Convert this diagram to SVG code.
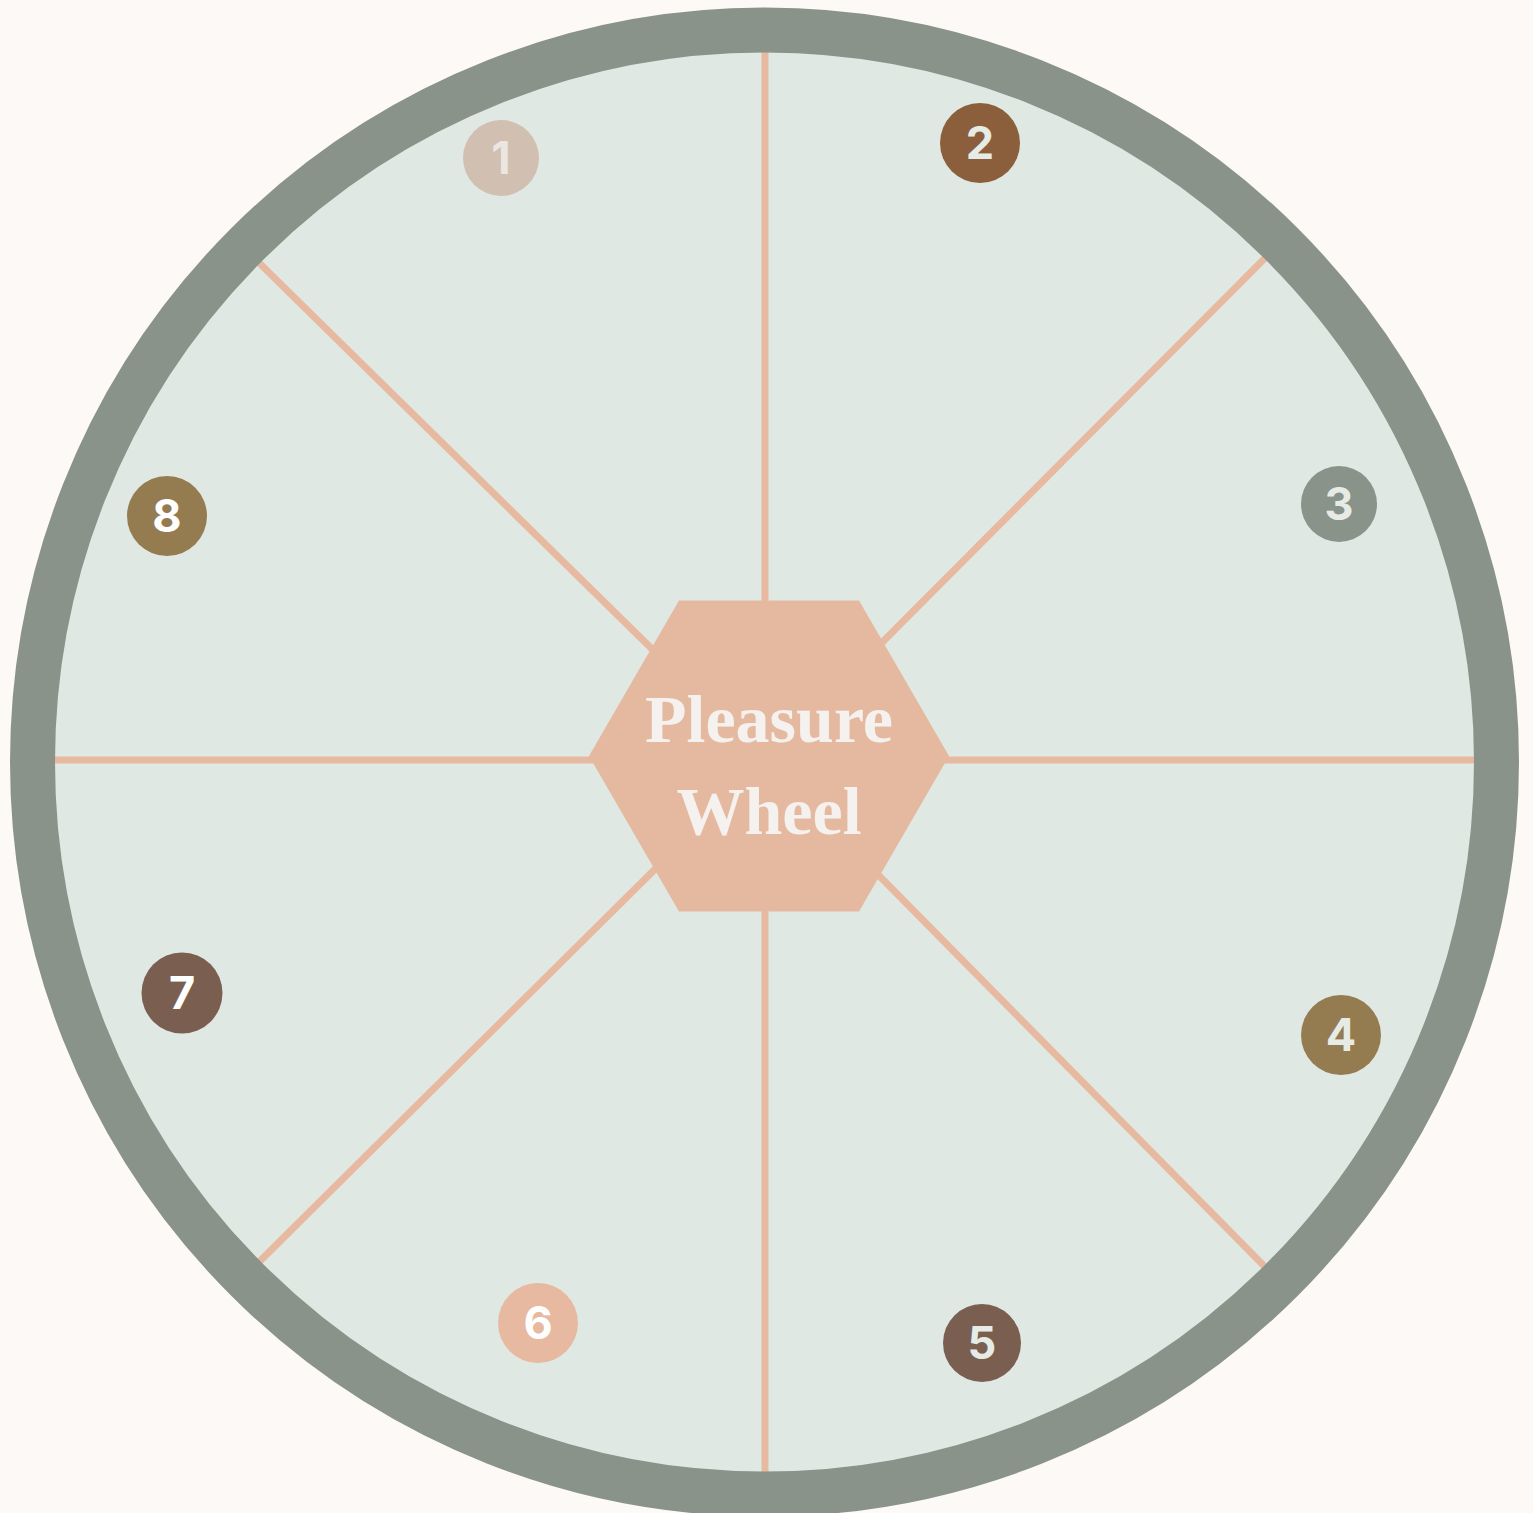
<svg xmlns="http://www.w3.org/2000/svg" width="1533" height="1513" viewBox="0 0 1533 1513">
<style>
.spoke{stroke:#e6b9a0;stroke-width:7;fill:none}
.num{font-family:Inter,"Noto Sans",sans-serif;font-weight:700;font-size:45px;text-anchor:middle}
.title{font-family:"Liberation Serif","DejaVu Serif",serif;font-weight:700;font-size:68px;fill:#f4f1ee;text-anchor:middle}
</style>
<rect width="1533" height="1513" fill="#fcf9f6"/>
<g id="wheel-bg">
<circle cx="764.5" cy="762" r="712" fill="#e0e8e3"/>
</g>
<g id="connectors">
<line class="spoke" x1="765" y1="760" x2="765" y2="40"/>
<line class="spoke" x1="765" y1="760" x2="765" y2="1490"/>
<line class="spoke" x1="765" y1="760" x2="40" y2="760"/>
<line class="spoke" x1="765" y1="760" x2="1490" y2="760"/>
<line class="spoke" x1="765" y1="760" x2="250" y2="254"/>
<line class="spoke" x1="765" y1="760" x2="1273" y2="250"/>
<line class="spoke" x1="765" y1="760" x2="1274" y2="1276"/>
<line class="spoke" x1="765" y1="760" x2="250" y2="1271"/>
</g>
<g id="rim">
<circle cx="764.5" cy="762" r="732" fill="none" stroke="#8a938a" stroke-width="45"/>
</g>
<g id="center">
<polygon points="589,756 679,600.5 859,600.5 949,756 859,911.5 679,911.5" fill="#e5b9a0"/>
<text class="title" x="769" y="742">Pleasure</text>
<text class="title" x="769" y="834">Wheel</text>
</g>
<g id="n1"><circle cx="501" cy="158" r="38" fill="#d1bfb1"/><text class="num" x="501" y="174" fill="#ebe6e1">1</text></g>
<g id="n2"><circle cx="980" cy="143" r="40" fill="#8b5e3c"/><text class="num" x="980" y="159" fill="#e6ebe6">2</text></g>
<g id="n3"><circle cx="1339" cy="504" r="38" fill="#8a938a"/><text class="num" x="1339" y="520" fill="#e6ebe6">3</text></g>
<g id="n4"><circle cx="1341" cy="1035" r="40" fill="#947b50"/><text class="num" x="1341" y="1051" fill="#e6ebe6">4</text></g>
<g id="n5"><circle cx="982" cy="1343" r="39" fill="#7a5f50"/><text class="num" x="982" y="1359" fill="#e6ebe6">5</text></g>
<g id="n6"><circle cx="538" cy="1323" r="40" fill="#e6b9a0"/><text class="num" x="538" y="1339" fill="#ffffff">6</text></g>
<g id="n7"><circle cx="182" cy="993" r="40.5" fill="#7a5f50"/><text class="num" x="182" y="1009" fill="#ffffff">7</text></g>
<g id="n8"><circle cx="167" cy="516" r="40" fill="#947b50"/><text class="num" x="167" y="532" fill="#ffffff">8</text></g>
</svg>
